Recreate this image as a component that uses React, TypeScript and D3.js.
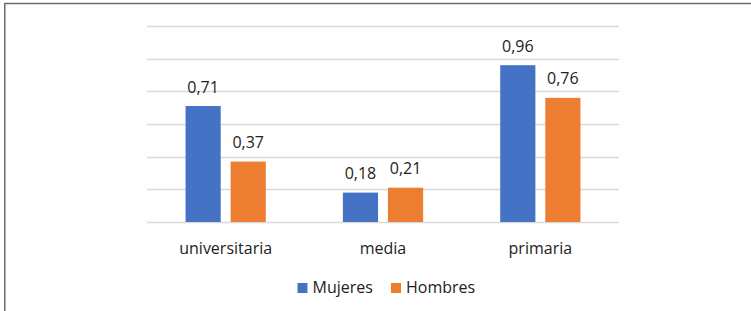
import React from "react";
import * as d3 from "d3";

const categories = ["universitaria", "media", "primaria"];
const seriesNames = ["Mujeres", "Hombres"];
const mujeres = [0.71, 0.18, 0.96];
const hombres = [0.37, 0.21, 0.76];
const yTicks = [0, 0.2, 0.4, 0.6, 0.8, 1.0, 1.2];
const colors = ["#4472C4", "#ED7D31"];

const W = 751;
const H = 311;
const plot = { left: 147, right: 619, top: 26, bottom: 222 };
const font = "'Open Sans', 'Noto Sans', sans-serif";
const textColor = "#222";

export default function App() {
  const x0 = d3
    .scaleBand<string>()
    .domain(categories)
    .range([plot.left, plot.right])
    .paddingInner(0.49)
    .paddingOuter(0.245);
  const x1 = d3
    .scaleBand<string>()
    .domain(seriesNames)
    .range([0, x0.bandwidth()])
    .paddingInner(0.22);
  const y = d3.scaleLinear().domain([0, 1.2]).range([plot.bottom, plot.top]);
  const series = [mujeres, hombres];
  const fmt = (v: number) => v.toFixed(2).replace(".", ",");

  const legendItems = [
    { name: seriesNames[0], x: 297.5, color: colors[0] },
    { name: seriesNames[1], x: 391, color: colors[1] },
  ];

  return (
    <svg
      width={W}
      height={H}
      style={{ position: "absolute", left: 0, top: 0, background: "#fff" }}
      fontFamily={font}
      fontWeight={500}
    >
      <rect x={0} y={0} width={W} height={H} fill="#fff" />
      <path d={`M4.75,${H} V3.5 H${W}`} fill="none" stroke="#6b6b6b" strokeWidth={1.5} />
      {yTicks.map((t) => (
        <line
          key={t}
          x1={plot.left}
          x2={plot.right}
          y1={Math.round(y(t)) + 0.5}
          y2={Math.round(y(t)) + 0.5}
          stroke="#d9d9d9"
          strokeWidth={1.3}
        />
      ))}
      {categories.map((c, i) => (
        <g key={c} transform={`translate(${x0(c)},0)`}>
          {series.map((s, j) => {
            const bx = x1(seriesNames[j])!;
            const v = s[i];
            return (
              <g key={j}>
                <rect
                  x={bx}
                  y={y(v)}
                  width={x1.bandwidth()}
                  height={y(0) - y(v)}
                  fill={colors[j]}
                />
                <text
                  x={bx + x1.bandwidth() / 2}
                  y={y(v) - 13.5}
                  textAnchor="middle"
                  fontSize={16}
                  fill={textColor}
                >
                  {fmt(v)}
                </text>
              </g>
            );
          })}
          <text
            x={x0.bandwidth() / 2}
            y={253.5}
            textAnchor="middle"
            fontSize={16}
            fill={textColor}
          >
            {c}
          </text>
        </g>
      ))}
      {legendItems.map((l) => (
        <g key={l.name}>
          <rect x={l.x} y={283} width={10} height={10} fill={l.color} />
          <text x={l.x + 15} y={292.5} fontSize={16} fill={textColor}>
            {l.name}
          </text>
        </g>
      ))}
    </svg>
  );
}
